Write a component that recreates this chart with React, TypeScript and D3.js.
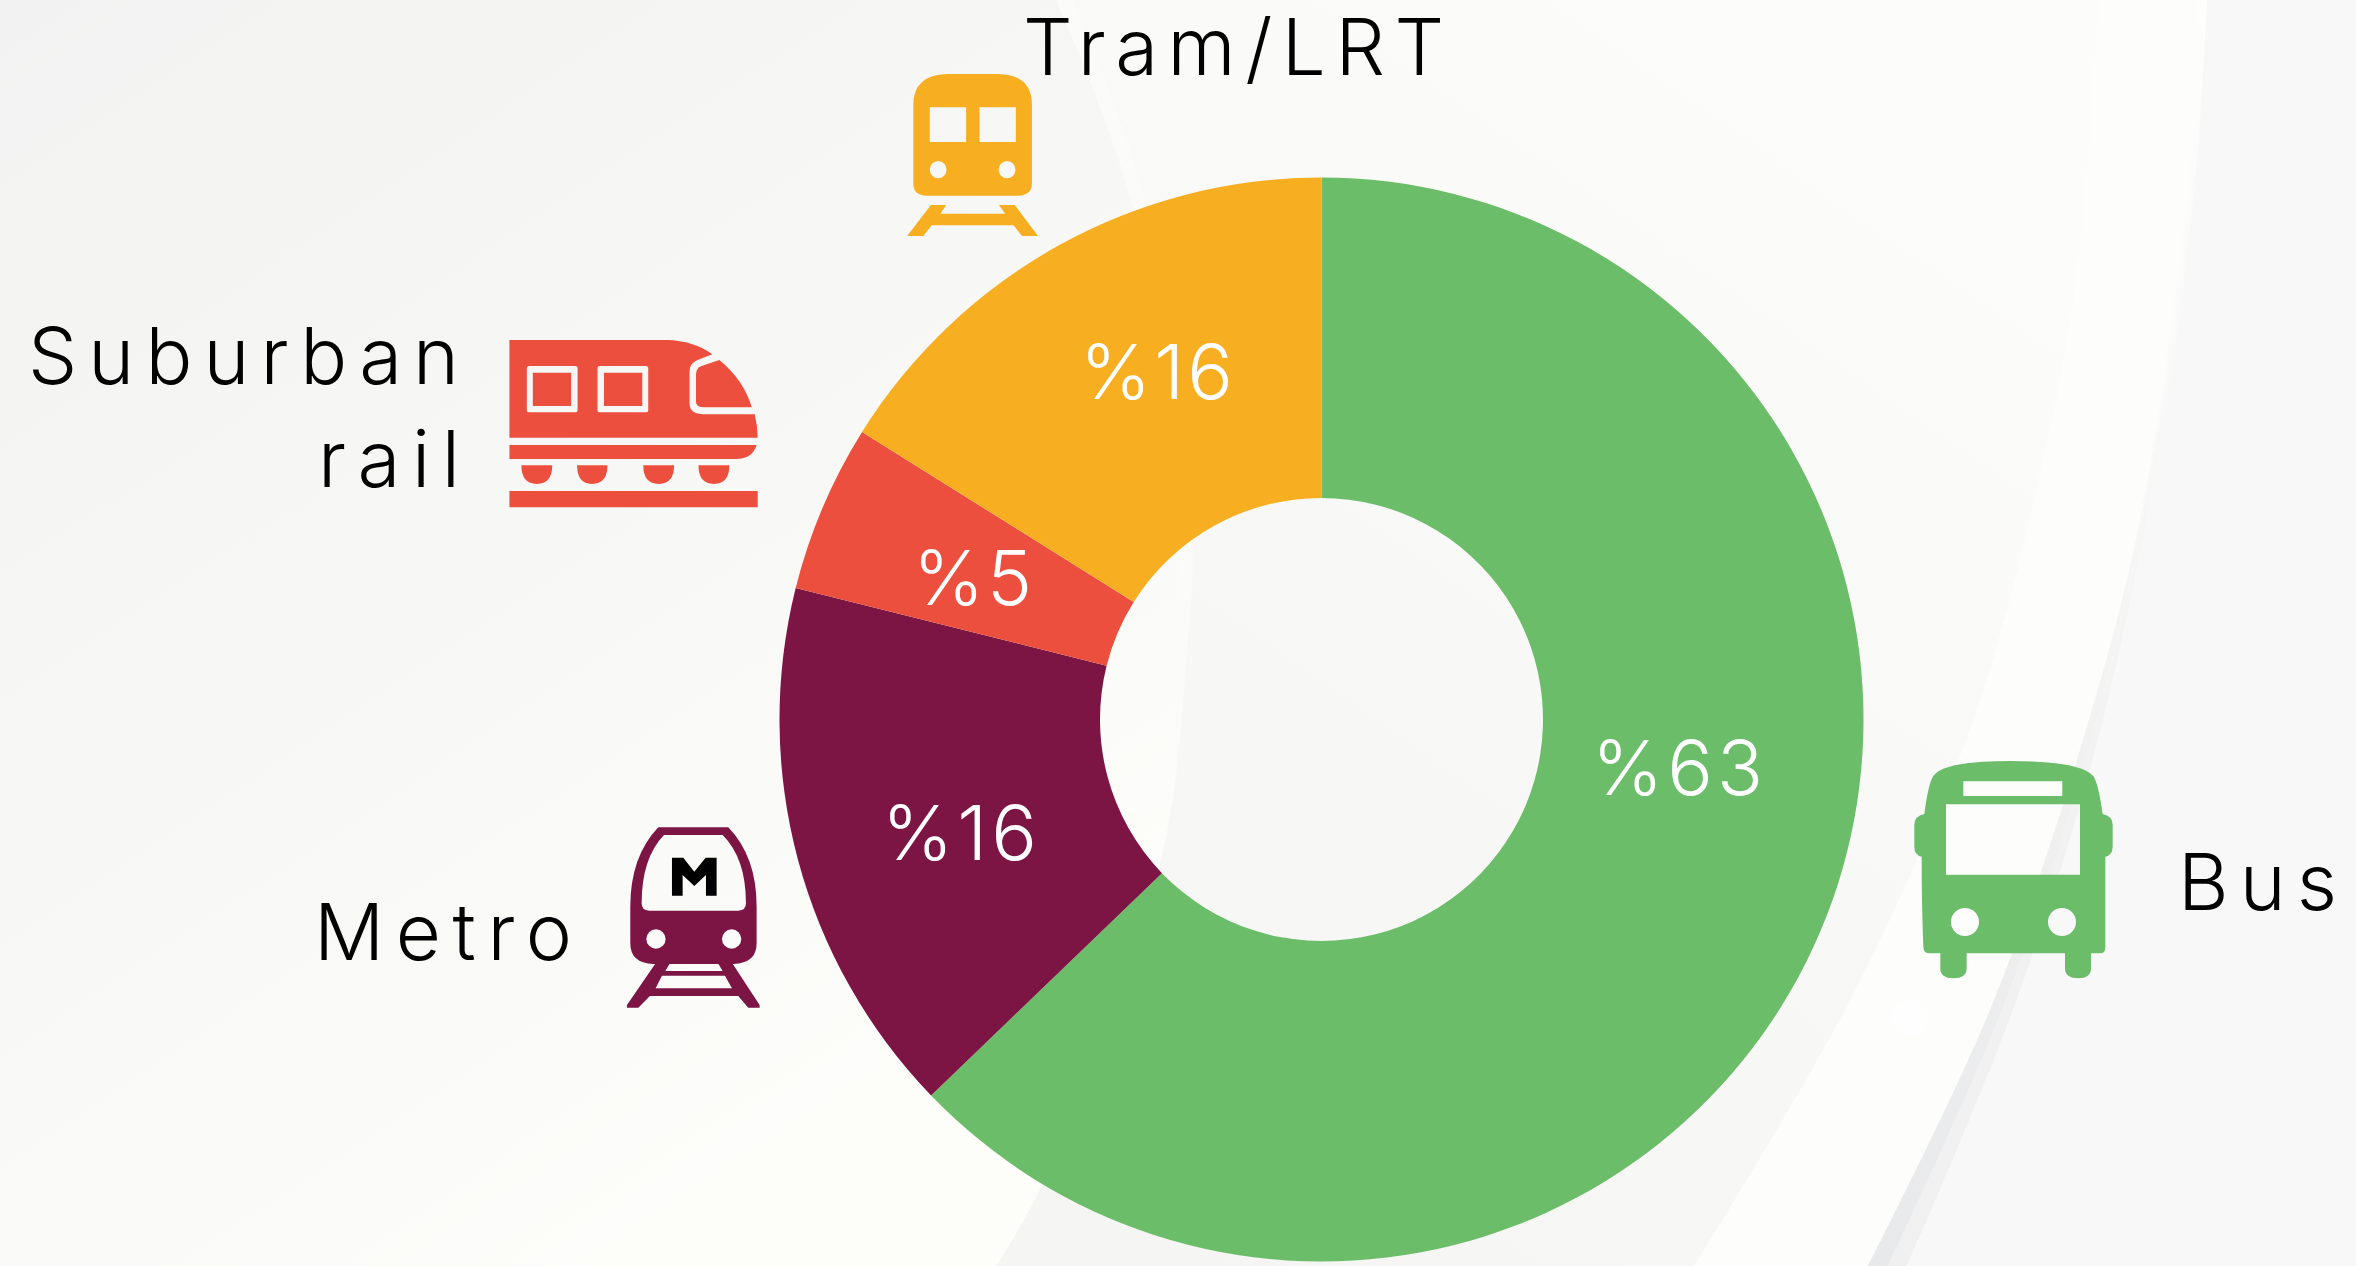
import React from "react";
import * as d3 from "d3";

const W = 2356, H = 1266;
const categories = ["Bus", "Metro", "Suburban rail", "Tram/LRT"];
const shares = [62.8, 16.1, 5.0, 16.1];
const colors = ["#6bbd69", "#7c1544", "#ec4f3d", "#f7ae21"];

const FONT = "Inter, Lato, sans-serif";
const CX = 1321.5, CY = 719.5, R_OUT = 542, R_IN = 221.5;

// placement of the printed percentages (left x, baseline y, width), by slice
const pctLayout = [
  { x: 1592, y: 794.6, w: 171 },
  { x: 882, y: 859.5, w: 155 },
  { x: 913, y: 604.5, w: 119 },
  { x: 1080, y: 398.7, w: 153 },
];
const nameLayout = [
  { t: "Tram/LRT", x: 1023, y: 75, w: 421 },
  { t: "Suburban", x: 28, y: 384, w: 431 },
  { t: "rail", x: 318, y: 487, w: 142 },
  { t: "Metro", x: 314, y: 960, w: 258 },
  { t: "Bus", x: 2178, y: 910, w: 159 },
];

const smooth = d3.line().curve(d3.curveCatmullRom.alpha(0.5));
const rawPts = (p: [number, number][]) => (smooth(p) as string).slice(1);

const ptsR: [number, number][] = [[1073, 0], [1146, 203], [1192, 540], [1188, 636], [1160, 865], [1042, 1185], [996, 1266]];
const ptsSL: [number, number][] = [[1056, 0], [1133, 208], [1178, 553], [1188, 636]];
const ptsC: [number, number][] = [[2099, 0], [2076, 282], [2034, 500], [1971, 726], [1850, 1000], [1694, 1266]];
const ptsD: [number, number][] = [[2195, 0], [2181, 242], [2139, 525], [2083, 740], [1990, 1010], [1868, 1266]];
const ptsM: [number, number][] = [[2199, 0], [2187, 220], [2148, 490], [2091, 740], [2002, 1010], [1888, 1266]];
const ptsE: [number, number][] = [[2207, 0], [2197, 161], [2160, 444], [2098, 740], [2013, 1010], [1907, 1266]];
const rev = (p: [number, number][]) => [...p].reverse();

const area = (a: [number, number][], b: [number, number][]) =>
  `M${rawPts(a)}L${rawPts(rev(b))}Z`;

function Icons() {
  return (
    <g>
      {/* Tram */}
      <g transform="translate(880,0) scale(0.3827,0.3333)" fill={colors[3]} fillRule="evenodd">
        <path d="M175,222H310Q397,225 397,315V550Q397,587 360,587H122Q87,587 87,550V315Q87,225 175,222Z
          M130,322H225V426H130Z M260,322H355V426H260Z
          M130,509a22,26 0 1,0 44,0a22,26 0 1,0 -44,0Z M310,509a22,26 0 1,0 44,0a22,26 0 1,0 -44,0Z" />
        <path d="M133,615H173L158,641H327L311,615H352L413,708H371L349,676H135L113,708H71Z" />
      </g>
      {/* Suburban */}
      <g transform="translate(0,300) scale(0.4975,0.3333)" fill={colors[2]}>
        <path fillRule="evenodd" d="M1024,120H1340Q1395,122 1432,163L1402,180Q1386,190 1386,215V310Q1386,343 1415,343H1517Q1523,380 1523,413H1024Z
          M1059,203Q1059,198 1064,198H1156Q1161,198 1161,203V332Q1161,337 1156,337H1064Q1059,337 1059,332Z
          M1201,203Q1201,198 1206,198H1298Q1303,198 1303,203V332Q1303,337 1298,337H1206Q1201,337 1201,332Z" />
        <path d="M1071,218H1148V318H1071Z M1214,218H1291V318H1214Z" />
        <path d="M1446,180Q1495,240 1511,322H1415Q1399,322 1399,305V222Q1399,205 1410,198Z" />
        <path d="M1024,435H1521Q1512,477 1480,477H1024Z" />
        <path d="M1048,496H1110Q1110,552 1079,552Q1048,552 1048,496Z" />
        <path d="M1160,496H1221Q1221,552 1190,552Q1160,552 1160,496Z" />
        <path d="M1293,496H1355Q1355,552 1324,552Q1293,552 1293,496Z" />
        <path d="M1404,496H1466Q1466,552 1435,552Q1404,552 1404,496Z" />
        <path d="M1024,573H1523V622H1024Z" />
      </g>
      {/* Metro */}
      <g transform="translate(290,800) scale(0.3333)" fill={colors[1]}>
        <path fillRule="evenodd" d="M1105,82H1315Q1400,170 1400,320V430Q1400,490 1330,492H1090Q1021,490 1021,430V320Q1021,170 1105,82Z
          M1122,105H1298Q1368,175 1368,310Q1368,332 1345,332H1078Q1055,332 1055,310Q1055,175 1122,105Z
          M1069,417a29,29 0 1,0 58,0a29,29 0 1,0 -58,0Z M1296,417a29,29 0 1,0 58,0a29,29 0 1,0 -58,0Z" />
        <path fillRule="evenodd" d="M1097,490H1140L1126,513H1298L1284,490H1327L1409,615V623H1375L1345,588H1080L1045,623H1011V615Z
          M1116,527H1305L1326,565H1097Z" />
        <path fill="#000" d="M1146,173H1180L1213,215L1247,173H1280V287H1248V225L1213,258L1178,225V287H1146Z" />
      </g>
      {/* Bus */}
      <g transform="translate(1880,740) scale(0.3333)" fill={colors[0]}>
        <path fillRule="evenodd" d="M390,63Q600,63 640,108Q655,130 668,222Q698,228 698,255V320Q698,345 676,350V625Q676,640 660,640H633V685Q633,715 595,715Q555,715 555,685V640H260V685Q260,715 220,715Q181,715 181,685V640H150Q130,640 130,620Q125,500 125,350Q103,345 103,320V255Q103,228 133,222Q145,130 160,108Q190,63 390,63Z
          M250,124H547V168H250Z M198,193H600V404H198Z
          M213,546a42,42 0 1,0 84,0a42,42 0 1,0 -84,0Z M504,546a42,42 0 1,0 84,0a42,42 0 1,0 -84,0Z" />
      </g>
    </g>
  );
}

export default function App() {
  const pie = d3.pie<number>().sort(null).startAngle(0).endAngle(2 * Math.PI);
  const arc = d3.arc<d3.PieArcDatum<number>>().innerRadius(R_IN).outerRadius(R_OUT);
  const slices = pie(shares);

  return (
    <svg
      width={W}
      height={H}
      viewBox={`0 0 ${W} ${H}`}
      style={{ position: "fixed", left: 0, top: 0, display: "block" }}
    >
      <defs>
        <linearGradient id="base" gradientUnits="userSpaceOnUse" x1="0" y1="0" x2="800" y2="1200">
          <stop offset="0" stopColor="#f2f2f2" />
          <stop offset="0.5" stopColor="#f7f7f5" />
          <stop offset="1" stopColor="#fdfdfa" />
        </linearGradient>
        <linearGradient id="mid" gradientUnits="userSpaceOnUse" x1="1100" y1="1266" x2="1900" y2="100">
          <stop offset="0" stopColor="#f5f5f4" />
          <stop offset="0.5" stopColor="#f8f8f6" />
          <stop offset="1" stopColor="#fcfcfa" />
        </linearGradient>
        <linearGradient id="bandDark" gradientUnits="userSpaceOnUse" x1="0" y1="0" x2="0" y2="1266">
          <stop offset="0" stopColor="#fefefd" />
          <stop offset="0.3" stopColor="#fbfbfa" />
          <stop offset="0.6" stopColor="#f1f1f1" />
          <stop offset="1" stopColor="#e8e9eb" />
        </linearGradient>
        <linearGradient id="bandLight" gradientUnits="userSpaceOnUse" x1="0" y1="0" x2="0" y2="1266">
          <stop offset="0" stopColor="#fefefd" />
          <stop offset="0.3" stopColor="#f9f9f9" />
          <stop offset="0.6" stopColor="#f2f2f2" />
          <stop offset="1" stopColor="#f0f0f1" />
        </linearGradient>
      </defs>

      {/* background */}
      <rect width={W} height={H} fill="url(#base)" />
      <path d={`M${rawPts(ptsR)}L${W},${H}L${W},0Z`} fill="url(#mid)" />
      <path d={`M${rawPts(ptsSL)}L${rawPts(rev(ptsR.slice(0, 4)))}Z`} fill="#fbfbf9" />
      <path d={area(ptsC, ptsD)} fill="#fdfdfb" />
      <path d={area(ptsD, ptsM)} fill="url(#bandDark)" />
      <path d={area(ptsM, ptsE)} fill="url(#bandLight)" />
      <path d={`M${rawPts(ptsE)}L${W},${H}L${W},0Z`} fill="#f8f8f8" />
      <ellipse cx={1910} cy={1018} rx={19} ry={19} fill="#fefefe" />

      {/* donut */}
      <g transform={`translate(${CX},${CY})`}>
        {slices.map((s, i) => (
          <path key={categories[i]} d={arc(s) as string} fill={colors[i]} />
        ))}
      </g>

      {/* percentages */}
      {slices.map((s, i) => (
        <text
          key={i}
          x={pctLayout[i].x}
          y={pctLayout[i].y}
          textLength={pctLayout[i].w}
          lengthAdjust="spacing"
          fontFamily={FONT}
          fontWeight={300}
          fontSize={76}
          fill="#fff"
        >
          {`%${Math.round(s.data)}`}
        </text>
      ))}

      <Icons />

      {/* category names */}
      {nameLayout.map((n) => (
        <text
          key={n.t}
          x={n.x}
          y={n.y}
          textLength={n.w}
          lengthAdjust="spacing"
          fontFamily={FONT}
          fontWeight={350}
          fontSize={78}
          fill="#000"
        >
          {n.t}
        </text>
      ))}
    </svg>
  );
}
